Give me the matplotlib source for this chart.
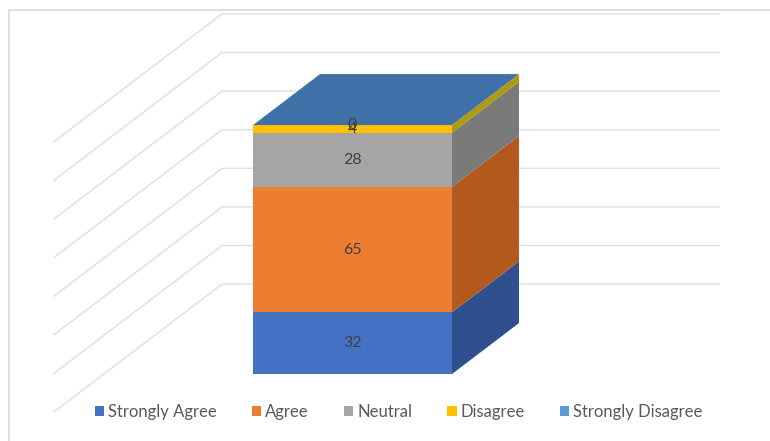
import matplotlib.pyplot as plt
from matplotlib.patches import Polygon, Rectangle, Patch

# survey response counts, stacked bottom to top
categories = ['Strongly Agree', 'Agree', 'Neutral', 'Disagree', 'Strongly Disagree']
counts = [32, 65, 28, 4, 0]
front_colors = ['#4472C4', '#ED7D31', '#A5A5A5', '#FFC000', '#5B9BD5']
side_colors = ['#2F4F8E', '#B3591E', '#7A7A7A', '#B09A10', '#41719C']
top_color = '#3F70A8'
y_ticks = [0, 20, 40, 60, 80, 100, 120, 140]

# oblique projection settings
bar_half = 0.3        # half bar width (x units)
wall_half = 0.75      # half width of the wall
DX, DY = 0.202, 26.4  # screen offset per unit depth (x units, value units)
d_front, d_back = -0.745, 1.765


def proj(x, v, d):
    return (x + d * DX, v + d * DY)


fig = plt.figure(figsize=(7.7, 4.41), dpi=100)
ax = fig.add_axes([0, 0, 1, 1])
ax.set_xlim(-1.063, 1.259)
ax.set_ylim(-34.7, 193.8)
ax.axis('off')

# chart border
fig.patches.append(Rectangle((9 / 770, -0.1), 1.2, 1.1 - 10 / 441, transform=fig.transFigure,
                             fill=False, edgecolor='#D9D9D9', linewidth=1.2))

# gridlines on side wall and back wall
for v in y_ticks:
    p0 = proj(-wall_half, v, d_front)
    p1 = proj(-wall_half, v, d_back)
    p2 = proj(wall_half, v, d_back)
    ax.plot([p0[0], p1[0], p2[0]], [p0[1], p1[1], p2[1]], color='#DEDEDE', linewidth=1, zorder=1)

# stacked 3D column
bottom = 0
for name, val, fc, sc in zip(categories, counts, front_colors, side_colors):
    top = bottom + val
    if val > 0:
        front = [proj(-bar_half, bottom, 0), proj(bar_half, bottom, 0),
                 proj(bar_half, top, 0), proj(-bar_half, top, 0)]
        side = [proj(bar_half, bottom, 0), proj(bar_half, bottom, 1),
                proj(bar_half, top, 1), proj(bar_half, top, 0)]
        ax.add_patch(Polygon(side, closed=True, facecolor=sc, edgecolor='none', zorder=3))
        ax.add_patch(Polygon(front, closed=True, facecolor=fc, edgecolor='none', zorder=3))
    ax.text(0, bottom + val / 2, str(val), ha='center', va='center', fontsize=11.5,
            color='#404040', family='Lato', zorder=5)
    bottom = top

lid = [proj(-bar_half, bottom, 0), proj(bar_half, bottom, 0),
       proj(bar_half, bottom, 1), proj(-bar_half, bottom, 1)]
ax.add_patch(Polygon(lid, closed=True, facecolor=top_color, edgecolor='none', zorder=4))

handles = [Patch(facecolor=c, edgecolor='none', label=n) for n, c in zip(categories, front_colors)]
ax.legend(handles=handles, loc='center', bbox_to_anchor=(0.518, 1 - 412 / 441), ncol=5,
          frameon=False, handlelength=0.55, handleheight=0.55, handletextpad=0.25,
          columnspacing=2.1, prop={'family': 'Lato', 'size': 12}, labelcolor='#595959')

fig.savefig('out.png', dpi=100)
